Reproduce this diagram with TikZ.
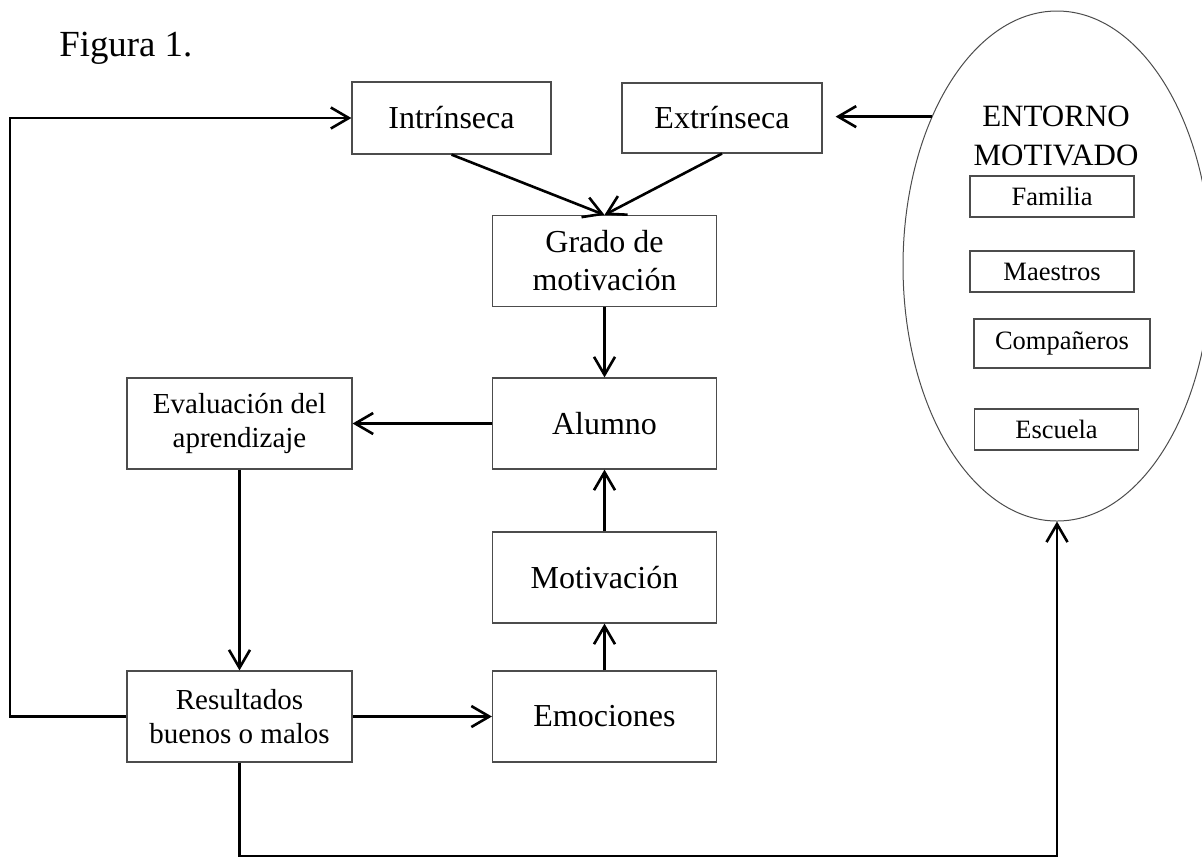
\documentclass[tikz,border=0pt]{standalone}
\usepackage{fontspec}
\setmainfont{Liberation Serif}
\usetikzlibrary{arrows.meta}
\usetikzlibrary{calc}
\usetikzlibrary{shapes.geometric}
\tikzstyle{block} = [rectangle, draw=black!70, line width=0.6pt, inner sep=0pt, minimum width=112pt, minimum height=45.5pt, text centered, align=center, font=\fontsize{16pt}{19pt}\selectfont]
\tikzstyle{smallblock} = [rectangle, draw=black!70, line width=0.6pt, inner sep=0pt, minimum width=82pt, minimum height=20.5pt, font=\fontsize{13.25pt}{15pt}\selectfont]
\tikzstyle{arrow} = [-{Straight Barb[length=9pt,width=10.5pt]}, line width=1.3pt]
\newcommand{\gap}{6.5pt}

\begin{document}
\begin{tikzpicture}[x=0.5pt,y=-0.5pt]

  \useasboundingbox (0,0) rectangle (1202,858);
  \coordinate (leftLine) at (10,0);
  \coordinate (bottomLine) at (0,856);

  % Title
  \node [anchor=base west, inner sep=0pt, font=\fontsize{18.4pt}{22pt}\selectfont] (figTitle) at (59,56) {Figura 1.};

  % Top row
  \node [block, minimum width=99.5pt, minimum height=36pt] (intrinsecaBlock) at (451.5,118) {Intrínseca};
  \node [block, minimum width=100pt, minimum height=35pt] (extrinsecaBlock) at (722,118) {Extrínseca};

  % Middle column
  \node [block] (gradoBlock) at (604.5,261) {Grado de\\motivación};
  \node [block] (alumnoBlock) at (604.5,423.5) {Alumno};
  \node [block] (motivacionBlock) at (604.5,577.5) {Motivación};
  \node [block] (emocionesBlock) at (604.5,716.5) {Emociones};

  % Left column
  \node [block, minimum width=112.5pt, font=\fontsize{14.5pt}{17pt}\selectfont] (evaluacionBlock) at (239.5,423.5) {Evaluación del\\aprendizaje};
  \node [block, minimum width=112.5pt, font=\fontsize{14.5pt}{17pt}\selectfont] (resultadosBlock) at (239.5,716.5) {Resultados\\buenos o malos};

  % Entorno motivado
  \node [ellipse, draw=black!70, line width=0.5pt, inner sep=0pt, minimum width=154pt, minimum height=255pt] (entornoEllipse) at (1057,266) {};
  \node [align=center, inner sep=0pt, font=\fontsize{15.5pt}{19.5pt}\selectfont] (entornoTitle) at (1056,136) {ENTORNO\\MOTIVADO};
  \node [smallblock] (familiaBlock) at (1052,196.5) {Familia};
  \node [smallblock] (maestrosBlock) at (1052,271.5) {Maestros};
  \node [smallblock, minimum width=88pt, minimum height=24.5pt] (companerosBlock) at (1062,343.5) {Compañeros};
  \node [smallblock] (escuelaBlock) at (1056.5,429.5) {Escuela};

  % Arrows
  \draw [arrow] (intrinsecaBlock.south) -- (gradoBlock.north);
  \draw [arrow] (extrinsecaBlock.south) -- (gradoBlock.north);
  \draw [arrow] (gradoBlock) -- (alumnoBlock);
  \draw [arrow] (alumnoBlock) -- (evaluacionBlock);
  \draw [arrow] (evaluacionBlock) -- (resultadosBlock);
  \draw [arrow] (resultadosBlock) -- (emocionesBlock);
  \draw [arrow] (emocionesBlock) -- (motivacionBlock);
  \draw [arrow] (motivacionBlock) -- (alumnoBlock);

  % Feedback loops
  \draw [arrow] (resultadosBlock.west) -- (resultadosBlock.west -| leftLine) |- (intrinsecaBlock.west);
  \draw [arrow] (resultadosBlock.south) -- (resultadosBlock.south |- bottomLine) -| (entornoEllipse.south);
  \draw [arrow, shorten >=\gap] (entornoEllipse.130) -- (entornoEllipse.130 -| extrinsecaBlock.east);

\end{tikzpicture}
\end{document}
